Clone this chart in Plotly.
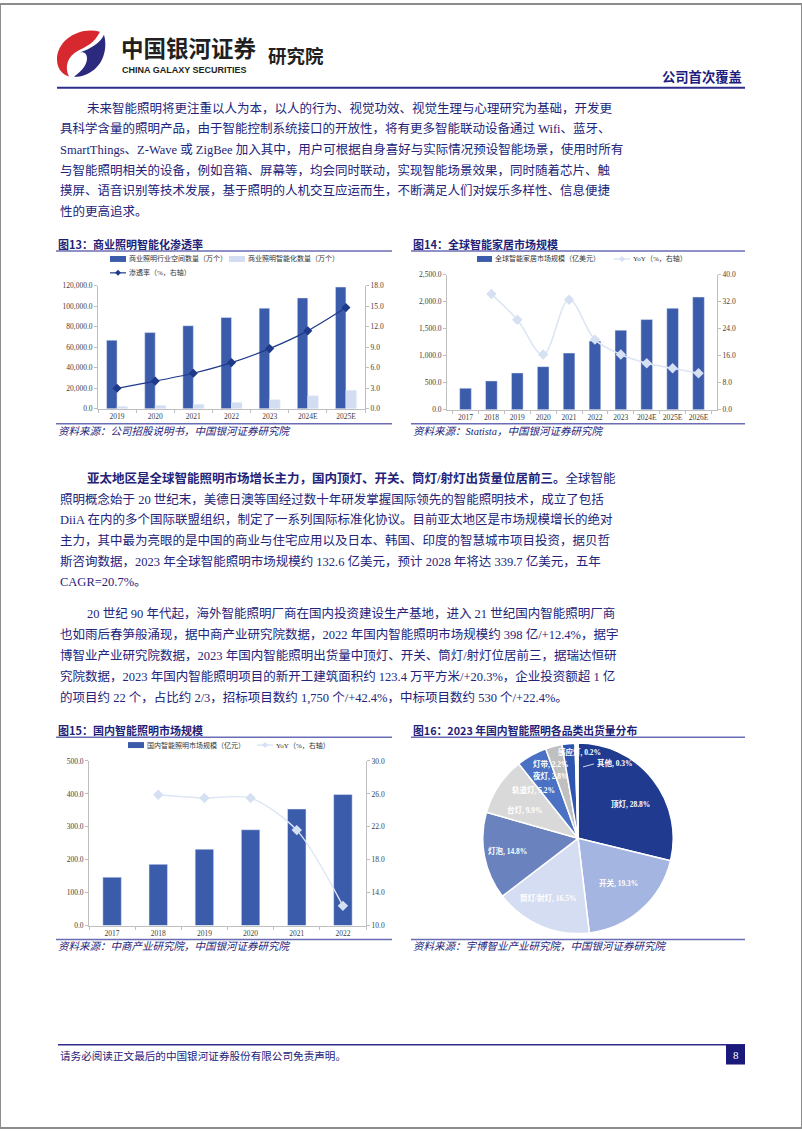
import plotly.graph_objects as go

W, H = 802, 1133
def X(px): return px / W
def Y(py): return 1 - py / H

NAVY_TXT = '#23237a'
BAR = '#3b5bab'
AX = '#bfbfbf'
TICKC = '#404040'
SERIF = 'Liberation Serif, Noto Sans CJK SC'
CJK = 'Noto Sans CJK SC'

# ---------------- data ----------------
f13_years = ['2019', '2020', '2021', '2022', '2023', '2024E', '2025E']
f13_total = [66900, 74300, 81000, 89100, 98100, 108100, 118700]
f13_smart = [2300, 3100, 4300, 6200, 8800, 12600, 18000]
f13_rate = [3.0, 4.05, 5.2, 6.75, 8.8, 11.4, 14.8]

f14_years = ['2017', '2018', '2019', '2020', '2021', '2022', '2023', '2024E', '2025E', '2026E']
f14_size = [399, 534, 682, 799, 1050, 1272, 1474, 1671, 1880, 2088]
f14_yoy = [None, 34.3, 26.7, 16.4, 32.6, 20.8, 16.4, 13.8, 12.3, 10.8]

f15_years = ['2017', '2018', '2019', '2020', '2021', '2022']
f15_size = [147, 186, 232, 291, 354, 398]
f15_yoy = [None, 25.9, 25.5, 25.5, 21.6, 12.4]

f16_labels = ['顶灯', '开关', '筒灯/射灯', '灯泡', '台灯', '轨道灯', '夜灯', '灯带', '感应灯', '其他']
f16_values = [28.8, 19.3, 16.5, 14.8, 9.9, 5.2, 2.8, 2.2, 0.2, 0.3]
f16_colors = ['#1f3a8f', '#a3b5e0', '#d4ddf1', '#6a82bd', '#d9d9d9', '#4a71c4', '#c0c0c0', '#2e56b0', '#e9eef8', '#f7f9fd']
f16_label_pos = [(630, 806), (618, 886), (548, 901), (508, 854), (525, 812), (533, 792), (551, 778), (551, 766), (579, 754), (612, 765)]

fig = go.Figure()

# ---------------- Fig 13 ----------------
fig.add_trace(go.Bar(x=f13_years, y=f13_total, marker_color=BAR, xaxis='x', yaxis='y', showlegend=False))
fig.add_trace(go.Bar(x=f13_years, y=f13_smart, marker_color='#d3ddf1', xaxis='x', yaxis='y', showlegend=False))
fig.add_trace(go.Scatter(x=f13_years, y=f13_rate, mode='lines+markers', xaxis='x', yaxis='y2',
                         line=dict(color='#1f3a8a', width=1.2, shape='spline', smoothing=0.8),
                         marker=dict(symbol='diamond', size=7, color='#1f3a8a'), showlegend=False))

# ---------------- Fig 14 ----------------
fig.add_trace(go.Bar(x=f14_years, y=f14_size, marker_color=BAR, width=0.45, xaxis='x2', yaxis='y3', showlegend=False))
fig.add_trace(go.Scatter(x=f14_years, y=f14_yoy, mode='lines+markers', xaxis='x2', yaxis='y4',
                         line=dict(color='#dde6f4', width=1.6, shape='spline', smoothing=1.0),
                         marker=dict(symbol='diamond', size=8, color='#d6e0f3'), showlegend=False))

# ---------------- Fig 15 ----------------
fig.add_trace(go.Bar(x=f15_years, y=f15_size, marker_color=BAR, width=0.4, xaxis='x3', yaxis='y5', showlegend=False))
fig.add_trace(go.Scatter(x=f15_years, y=f15_yoy, mode='lines+markers', xaxis='x3', yaxis='y6',
                         line=dict(color='#dde6f4', width=1.4, shape='spline', smoothing=0.8),
                         marker=dict(symbol='diamond', size=8, color='#d6e0f3'), showlegend=False))

# ---------------- Fig 16 ----------------
fig.add_trace(go.Pie(labels=f16_labels, values=f16_values, sort=False, direction='clockwise', rotation=0,
                     marker=dict(colors=f16_colors, line=dict(color='white', width=1.5)),
                     textinfo='none', hoverinfo='label+percent', showlegend=False,
                     domain=dict(x=[X(482), X(674)], y=[Y(937), Y(745)])))

tickfont = dict(family=SERIF, size=7.5, color=TICKC)
def xax(d0, d1, anchor):
    return dict(domain=[X(d0), X(d1)], anchor=anchor, type='category', showline=True, linecolor=AX,
                linewidth=1, ticks='outside', ticklen=3, tickcolor=AX, tickson='boundaries', tickangle=0,
                tickfont=tickfont, showgrid=False, zeroline=False, fixedrange=True)
def yax(top, bot, anchor, rng, dtick, fmt, side='left', overlay=None):
    d = dict(domain=[Y(bot), Y(top)], anchor=anchor, range=rng, tick0=rng[0], dtick=dtick, tickformat=fmt,
             showline=True, linecolor=AX, linewidth=1, ticks='outside', ticklen=3, tickcolor=AX,
             tickfont=tickfont, showgrid=False, zeroline=False, side=side, fixedrange=True)
    if overlay:
        d['overlaying'] = overlay
    return d

layout = dict(
    width=W, height=H, margin=dict(l=0, r=0, t=0, b=0), paper_bgcolor='white', plot_bgcolor='rgba(0,0,0,0)',
    barmode='group', bargap=0.45, bargroupgap=0,
    xaxis=xax(98, 365, 'y'),
    yaxis=yax(284, 408, 'x', [0, 120000], 20000, ',.1f'),
    yaxis2=yax(284, 408, 'x', [0, 18], 3, '.1f', 'right', 'y'),
    xaxis2=xax(447, 717, 'y3'),
    yaxis3=yax(273, 409, 'x2', [0, 2500], 500, ',.1f'),
    yaxis4=yax(273, 409, 'x2', [0, 40], 8, '.1f', 'right', 'y3'),
    xaxis3=xax(89, 366, 'y5'),
    yaxis5=yax(763, 929, 'x3', [0, 500], 100, '.1f'),
    yaxis6=yax(763, 929, 'x3', [10, 30], 4, '.1f', 'right', 'y5'),
)
fig.update_layout(**layout)

shapes = []
ann = []

def text(x, y, s, size, color=NAVY_TXT, family=SERIF, xanchor='left'):
    ann.append(dict(x=X(x), y=Y(y), xref='paper', yref='paper', text=s, showarrow=False,
                    xanchor=xanchor, yanchor='middle', font=dict(family=family, size=size, color=color)))

def hline(x0, x1, y, color, width):
    shapes.append(dict(type='line', xref='paper', yref='paper', x0=X(x0), x1=X(x1), y0=Y(y), y1=Y(y),
                       line=dict(color=color, width=width)))

def rect(x0, y0, x1, y1, fill, line=None):
    shapes.append(dict(type='rect', xref='paper', yref='paper', x0=X(x0), x1=X(x1), y0=Y(y1), y1=Y(y0),
                       fillcolor=fill, line=dict(width=0) if line is None else line))

def diamond(cx, cy, s, color):
    p = f"M {X(cx)},{Y(cy - s)} L {X(cx + s)},{Y(cy)} L {X(cx)},{Y(cy + s)} L {X(cx - s)},{Y(cy)} Z"
    shapes.append(dict(type='path', xref='paper', yref='paper', path=p, fillcolor=color, line=dict(width=0)))

def path(pts, color):
    out = []
    for cmd in pts:
        c = cmd[0]
        nums = cmd[1:]
        coords = []
        for i in range(0, len(nums), 2):
            coords.append(f"{X(nums[i])},{Y(nums[i + 1])}")
        out.append(c + ' ' + ' '.join(coords))
    shapes.append(dict(type='path', xref='paper', yref='paper', path=' '.join(out) + ' Z',
                       fillcolor=color, line=dict(width=0)))

# page frame
shapes.append(dict(type='rect', xref='paper', yref='paper', x0=0, x1=1, y0=0, y1=1,
                   line=dict(color='#8c8c8c', width=2), fillcolor='rgba(0,0,0,0)'))

# ---------------- header ----------------
path([('M', 100, 28), ('C', 80, 22, 57, 36, 57, 56), ('C', 57, 65, 62, 71, 69, 73),
      ('C', 64, 63, 68, 52, 78, 47), ('C', 86, 43, 94, 40, 100, 28)], '#d7282f')
path([('M', 104, 31), ('C', 108, 45, 103, 62, 90, 69), ('C', 85, 72, 79, 74, 74, 73),
      ('C', 82, 68, 87, 61, 87, 55), ('C', 87, 50, 84, 48, 80, 49), ('C', 90, 45, 100, 40, 104, 31)], '#2b2a7f')
text(119, 43, '<b>中国银河证券</b>', 22.5, '#231f20', CJK)
text(266, 51, '<b>研究院</b>', 18.5, '#231f20', CJK)
text(120, 67, '<b>CHINA GALAXY SECURITIES</b>', 9, '#231f20', 'Liberation Sans, Arial')
text(744, 73, '<b>公司首次覆盖</b>', 13.3, '#1d1d80', CJK, 'right')
hline(57, 745, 84.5, '#2e2d8c', 2)

# ---------------- body text ----------------
p1 = ['未来智能照明将更注重以人为本，以人的行为、视觉功效、视觉生理与心理研究为基础，开发更',
      '具科学含量的照明产品，由于智能控制系统接口的开放性，将有更多智能联动设备通过 Wifi、蓝牙、',
      'SmartThings、Z-Wave 或 ZigBee 加入其中，用户可根据自身喜好与实际情况预设智能场景，使用时所有',
      '与智能照明相关的设备，例如音箱、屏幕等，均会同时联动，实现智能场景效果，同时随着芯片、触',
      '摸屏、语音识别等技术发展，基于照明的人机交互应运而生，不断满足人们对娱乐多样性、信息便捷',
      '性的更高追求。']
p1_y = [105, 126, 147, 168, 188, 209]
p2 = ['<b>亚太地区是全球智能照明市场增长主力，国内顶灯、开关、筒灯/射灯出货量位居前三。</b>全球智能',
      '照明概念始于 20 世纪末，美德日澳等国经过数十年研发掌握国际领先的智能照明技术，成立了包括',
      'DiiA 在内的多个国际联盟组织，制定了一系列国际标准化协议。目前亚太地区是市场规模增长的绝对',
      '主力，其中最为亮眼的是中国的商业与住宅应用以及日本、韩国、印度的智慧城市项目投资，据贝哲',
      '斯咨询数据，2023 年全球智能照明市场规模约 132.6 亿美元，预计 2028 年将达 339.7 亿美元，五年',
      'CAGR=20.7%。']
p2_y = [478, 499, 520, 541, 562, 583]
p3 = ['20 世纪 90 年代起，海外智能照明厂商在国内投资建设生产基地，进入 21 世纪国内智能照明厂商',
      '也如雨后春笋般涌现，据中商产业研究院数据，2022 年国内智能照明市场规模约 398 亿/+12.4%，据宇',
      '博智业产业研究院数据，2023 年国内智能照明出货量中顶灯、开关、筒灯/射灯位居前三，据瑞达恒研',
      '究院数据，2023 年国内智能照明项目的新开工建筑面积约 123.4 万平方米/+20.3%，企业投资额超 1 亿',
      '的项目约 22 个，占比约 2/3，招标项目数约 1,750 个/+42.4%，中标项目数约 530 个/+22.4%。']
p3_y = [614, 636, 657, 678, 699]
for lines, ys in ((p1, p1_y), (p2, p2_y), (p3, p3_y)):
    for i, (s, y) in enumerate(zip(lines, ys)):
        text(85 if i == 0 else 58, y, s, 12.5)

# ---------------- figure titles / sources ----------------
TITLE_C = '#1f1f78'
RULE_C = '#6a6db5'
text(56, 242, '<b>图13：商业照明智能化渗透率</b>', 11, TITLE_C, CJK)
text(411, 242, '<b>图14：全球智能家居市场规模</b>', 11, TITLE_C, CJK)
text(56, 732, '<b>图15：国内智能照明市场规模</b>', 11, TITLE_C, CJK)
text(411, 732, '<b>图16：2023 年国内智能照明各品类出货量分布</b>', 10.8, TITLE_C, CJK)
for x0, x1, y in ((56, 392, 249), (411, 745, 249), (56, 392, 739), (411, 745, 739),
                  (56, 392, 423), (411, 745, 423), (56, 392, 943), (411, 745, 943)):
    hline(x0, x1, y, RULE_C, 1.5)
text(56, 431, '<i>资料来源：公司招股说明书，中国银河证券研究院</i>', 10.5, NAVY_TXT)
text(411, 431, '<i>资料来源：Statista，中国银河证券研究院</i>', 10.5, NAVY_TXT)
text(56, 950, '<i>资料来源：中商产业研究院，中国银河证券研究院</i>', 10.5, NAVY_TXT)
text(411, 950, '<i>资料来源：宇博智业产业研究院，中国银河证券研究院</i>', 10.5, NAVY_TXT)

# ---------------- legends ----------------
LEG = 7
rect(110, 254, 126, 260, BAR)
text(127, 257, '商业照明行业空间数量（万个）', LEG, '#333333')
rect(229, 254, 245, 260, '#d3ddf1')
text(246, 257, '商业照明智能化数量（万个）', LEG, '#333333')
hline(110, 126, 271, '#1f3a8a', 1.2)
diamond(118, 271, 3, '#1f3a8a')
text(127, 271, '渗透率（%，右轴）', LEG, '#333333')
rect(477, 254, 492, 260, BAR)
text(493, 257, '全球智能家居市场规模（亿美元）', LEG, '#333333')
hline(614, 630, 257, '#dde6f4', 1.5)
diamond(622, 257, 3, '#d6e0f3')
text(631, 257, 'YoY（%，右轴）', LEG, '#333333')
rect(128, 744, 144, 750, BAR)
text(145, 747, '国内智能照明市场规模（亿元）', LEG, '#333333')
hline(257, 273, 747, '#dde6f4', 1.5)
diamond(265, 747, 3, '#d6e0f3')
text(274, 747, 'YoY（%，右轴）', LEG, '#333333')

# ---------------- pie labels ----------------
for i, (lab, v) in enumerate(zip(f16_labels, f16_values)):
    px_, py_ = f16_label_pos[i]
    anchor = 'left' if lab == '其他' else 'center'
    if lab == '其他':
        shapes.append(dict(type='line', xref='paper', yref='paper', x0=X(583), y0=Y(769), x1=X(594), y1=Y(766),
                           line=dict(color='white', width=0.8)))
        px_ = 595
    text(px_, py_, f'<b>{lab}, {v}%</b>', 7.5, 'white', SERIF, anchor)

# ---------------- footer ----------------
hline(58, 745, 1049, '#2e2d8c', 1.5)
text(58, 1060, '请务必阅读正文最后的中国银河证券股份有限公司免责声明。', 10.6, NAVY_TXT)
rect(726, 1049, 745, 1069, '#1a1a7a')
text(735.5, 1059, '8', 11, 'white', SERIF, 'center')

fig.update_layout(shapes=shapes, annotations=ann)
fig.write_html("out.html", config={'displayModeBar': False}, post_script="document.body.style.margin='0';")
